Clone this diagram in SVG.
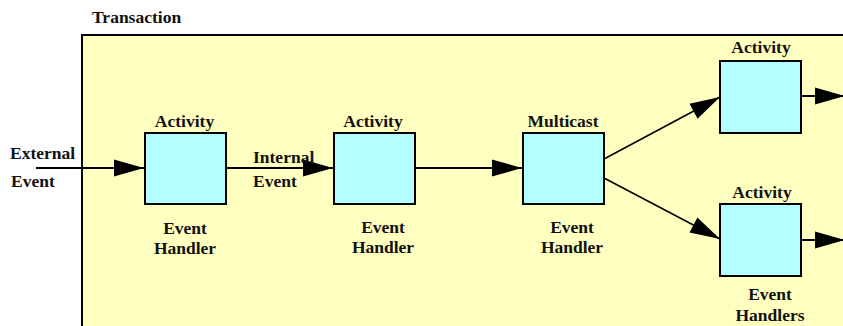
<svg xmlns="http://www.w3.org/2000/svg" width="843" height="326" viewBox="0 0 843 326">
<defs>
<marker id="ah" markerUnits="userSpaceOnUse" markerWidth="31" markerHeight="18" refX="30" refY="8.5" orient="auto" overflow="visible">
<path d="M0,0 L30,8.5 L0,17 z" fill="#000"/>
</marker>
<style>
.t{font-family:"Liberation Serif","Times New Roman",serif;font-weight:bold;font-size:17.5px;fill:#111}
.m{text-anchor:middle}
.box{fill:#B3FFFF;stroke:#000;stroke-width:2}
.ln{stroke:#000;stroke-width:2;fill:none}
.dg{stroke:#000;stroke-width:1.5;fill:none}
</style>
</defs>
<rect width="843" height="326" fill="#fff"/>
<g id="transaction">
<rect x="82" y="35" width="780" height="310" fill="#FFFFC0" stroke="#000" stroke-width="2"/>
<text class="t" x="92" y="23">Transaction</text>
</g>
<g id="connectors">
<line class="ln" x1="36" y1="168" x2="144" y2="168" marker-end="url(#ah)"/>
<line class="ln" x1="226" y1="168" x2="333" y2="168" marker-end="url(#ah)"/>
<line class="ln" x1="415" y1="168" x2="522" y2="168" marker-end="url(#ah)"/>
<line class="dg" x1="604" y1="159" x2="720" y2="97" marker-end="url(#ah)"/>
<line class="dg" x1="604" y1="178" x2="720" y2="239" marker-end="url(#ah)"/>
<line class="ln" x1="801" y1="96" x2="845" y2="96" marker-end="url(#ah)"/>
<line class="ln" x1="801" y1="240" x2="845" y2="240" marker-end="url(#ah)"/>
</g>
<g id="external-event">
<text class="t" x="10" y="159">External</text>
<text class="t" x="11" y="187">Event</text>
</g>
<g id="internal-event">
<text class="t" x="253" y="163">Internal</text>
<text class="t" x="253" y="187">Event</text>
</g>
<g id="activity1">
<rect class="box" x="145" y="133" width="81" height="71"/>
<text class="t m" x="184.5" y="127">Activity</text>
<text class="t m" x="185" y="234">Event</text>
<text class="t m" x="185" y="254">Handler</text>
</g>
<g id="activity2">
<rect class="box" x="334" y="133" width="81" height="71"/>
<text class="t m" x="373" y="127">Activity</text>
<text class="t m" x="383" y="233">Event</text>
<text class="t m" x="383" y="253">Handler</text>
</g>
<g id="multicast">
<rect class="box" x="523" y="133" width="81" height="71"/>
<text class="t m" x="563" y="127">Multicast</text>
<text class="t m" x="572" y="233">Event</text>
<text class="t m" x="572" y="253">Handler</text>
</g>
<g id="activity3">
<rect class="box" x="720" y="61" width="81" height="72"/>
<text class="t m" x="761" y="53">Activity</text>
</g>
<g id="activity4">
<rect class="box" x="720" y="204" width="81" height="72"/>
<text class="t m" x="762" y="198">Activity</text>
<text class="t m" x="770" y="300">Event</text>
<text class="t m" x="770" y="321">Handlers</text>
</g>
</svg>
